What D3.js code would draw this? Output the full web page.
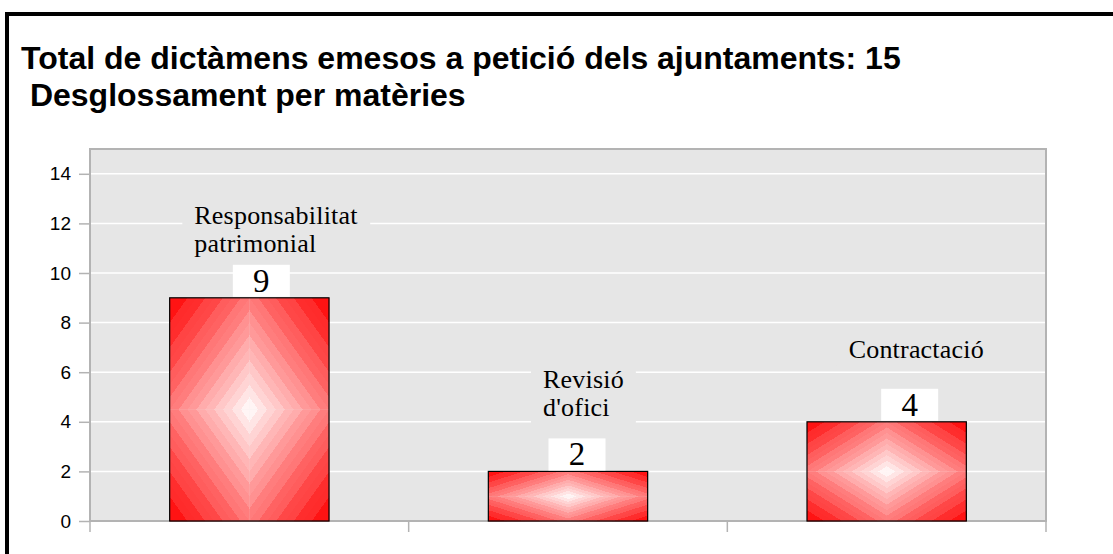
<!DOCTYPE html>
<html>
<head>
<meta charset="utf-8">
<script src="https://cdn.jsdelivr.net/npm/d3@7"></script>
<style>
  html, body { margin: 0; padding: 0; background: #fff; }
  svg { display: block; }
</style>
</head>
<body>
<script>
'use strict';
(function () {
  // chart data
  let categories = ["Responsabilitat patrimonial", "Revisió d'ofici", "Contractació"];
  let nameLines = [["Responsabilitat", "patrimonial"], ["Revisió", "d'ofici"], ["Contractació"]];
  let values = [9, 2, 4];
  let yTicks = [0, 2, 4, 6, 8, 10, 12, 14];
  let titleLines = ["Total de dictàmens emesos a petició dels ajuntaments: 15", " Desglossament per matèries"];

  // label placement, relative to each bar (the original chart puts them a bit off centre)
  let valueDx = [12, 9, 23];
  let nameDx = [-55, -25, -38];
  let nameDy = [-74, -83, -64];

  const W = 1113, H = 554;
  let plot = { left: 90, right: 1046, top: 149, bottom: 521 };

  let svg = d3.select('body').append('svg')
    .attr('width', W)
    .attr('height', H);

  // outer frame
  svg.append('rect')
    .attr('x', 7).attr('y', 14)
    .attr('width', W + 20).attr('height', H + 20)
    .attr('fill', '#fff')
    .attr('stroke', '#000')
    .attr('stroke-width', 4);

  // title
  svg.append('text')
    .attr('font-family', '"Liberation Sans", Arial, sans-serif')
    .attr('font-weight', 'bold')
    .attr('font-size', 32)
    .attr('fill', '#000')
    .attr('xml:space', 'preserve')
    .selectAll('tspan')
    .data(titleLines)
    .enter()
    .append('tspan')
    .attr('x', 21)
    .attr('y', (d, i) => 69 + i * 37)
    .text(d => d);

  let x = d3.scaleBand()
    .domain(categories)
    .range([plot.left, plot.right])
    .paddingInner(0.5)
    .paddingOuter(0.25);
  let y = d3.scaleLinear()
    .domain([0, 15])
    .range([plot.bottom, plot.top]);

  // plot background
  svg.append('rect')
    .attr('x', plot.left).attr('y', plot.top)
    .attr('width', plot.right - plot.left)
    .attr('height', plot.bottom - plot.top)
    .attr('fill', '#e6e6e6');

  // gridlines
  svg.append('g')
    .selectAll('line')
    .data(yTicks.filter(t => t > 0))
    .enter()
    .append('line')
    .attr('x1', plot.left).attr('x2', plot.right)
    .attr('y1', d => y(d)).attr('y2', d => y(d))
    .attr('stroke', '#fff')
    .attr('stroke-width', 1.5);

  // y axis
  let yAxis = d3.axisLeft(y).tickValues(yTicks).tickSize(11).tickPadding(8);
  let gy = svg.append('g')
    .attr('transform', 'translate(' + plot.left + ',0)')
    .call(yAxis);
  gy.select('.domain').remove();
  gy.selectAll('line').attr('stroke', '#b3b3b3').attr('stroke-width', 1.5);
  gy.selectAll('text')
    .attr('font-family', '"Liberation Sans", Arial, sans-serif')
    .attr('font-size', 19)
    .attr('fill', '#000');

  // category boundary ticks
  let bounds = d3.range(categories.length + 1).map(i => plot.left + i * x.step());
  svg.append('g')
    .selectAll('line')
    .data(bounds)
    .enter()
    .append('line')
    .attr('x1', d => d).attr('x2', d => d)
    .attr('y1', plot.bottom).attr('y2', plot.bottom + 11)
    .attr('stroke', '#b3b3b3')
    .attr('stroke-width', 1.5);

  // plot frame
  svg.append('path')
    .attr('d', 'M' + plot.left + ',' + plot.bottom + 'V' + plot.top + 'H' + plot.right + 'V' + plot.bottom + 'Z')
    .attr('fill', 'none')
    .attr('stroke', '#b3b3b3')
    .attr('stroke-width', 2);

  // diamond gradient: four quadrants with banded linear gradients
  let defs = svg.append('defs');
  let steps = 18;
  let quads = [
    { id: 'qtl', x1: 1, y1: 1, x2: 0, y2: 0 },
    { id: 'qtr', x1: 0, y1: 1, x2: 1, y2: 0 },
    { id: 'qbl', x1: 1, y1: 0, x2: 0, y2: 1 },
    { id: 'qbr', x1: 0, y1: 0, x2: 1, y2: 1 }
  ];
  let shade = d3.interpolateRgb('#ffffff', '#ff0000');
  quads.forEach(q => {
    let g = defs.append('linearGradient')
      .attr('id', q.id)
      .attr('x1', q.x1).attr('y1', q.y1)
      .attr('x2', q.x2).attr('y2', q.y2);
    for (let s = 0; s < steps; s++) {
      let c = shade(Math.pow((s + 0.5) / steps, 0.9) * (s % 2 ? 0.95 : 1));
      g.append('stop').attr('offset', s / steps).attr('stop-color', c);
      g.append('stop').attr('offset', (s + 1) / steps).attr('stop-color', c);
    }
  });

  let bars = svg.append('g')
    .selectAll('g')
    .data(values)
    .enter()
    .append('g');

  quads.forEach((q, qi) => {
    bars.append('rect')
      .attr('x', (d, i) => x(categories[i]) + (qi % 2) * x.bandwidth() / 2)
      .attr('y', d => y(d) + (qi >= 2 ? (y(0) - y(d)) / 2 : 0))
      .attr('width', x.bandwidth() / 2 + 0.3)
      .attr('height', d => (y(0) - y(d)) / 2 + 0.3)
      .attr('fill', 'url(#' + q.id + ')');
  });

  bars.append('rect')
    .attr('x', (d, i) => x(categories[i]))
    .attr('y', d => y(d))
    .attr('width', x.bandwidth())
    .attr('height', d => y(0) - y(d))
    .attr('fill', 'none')
    .attr('stroke', '#000')
    .attr('stroke-width', 1.2);

  // value labels
  let cx = i => x(categories[i]) + x.bandwidth() / 2;
  bars.append('rect')
    .attr('x', (d, i) => cx(i) + valueDx[i] - 28.5)
    .attr('y', d => y(d) - 33)
    .attr('width', 57)
    .attr('height', 32)
    .attr('fill', '#fff');
  bars.append('text')
    .attr('x', (d, i) => cx(i) + valueDx[i])
    .attr('y', d => y(d) - 6)
    .attr('text-anchor', 'middle')
    .attr('font-family', '"Liberation Serif", "Times New Roman", serif')
    .attr('font-size', 33)
    .attr('fill', '#000')
    .text(d => d);

  // category labels, with a plot-coloured box hiding the gridlines behind them
  bars.each(function (d, i) {
    let g = d3.select(this);
    let bg = g.append('rect').attr('fill', '#e6e6e6');
    let t = g.append('text')
      .attr('font-family', '"Liberation Serif", "Times New Roman", serif')
      .attr('font-size', 26)
      .attr('letter-spacing', 0.2)
      .attr('fill', '#000');
    t.selectAll('tspan')
      .data(nameLines[i])
      .enter()
      .append('tspan')
      .attr('x', cx(i) + nameDx[i])
      .attr('y', (s, k) => y(d) + nameDy[i] + k * 28)
      .text(s => s);
    let bb = t.node().getBBox();
    bg.attr('x', bb.x - 12).attr('y', bb.y - 2)
      .attr('width', bb.width + 24).attr('height', bb.height + 4);
  });
})();
</script>
</body>
</html>
